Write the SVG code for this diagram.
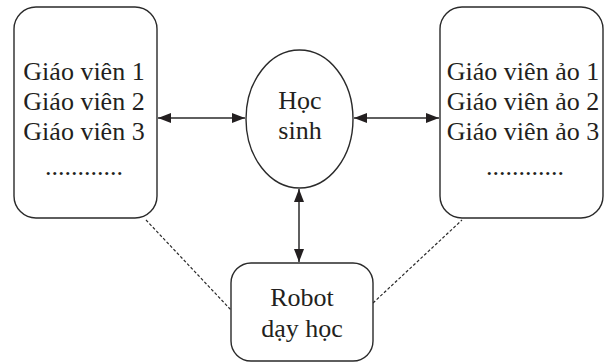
<svg xmlns="http://www.w3.org/2000/svg" width="614" height="364" viewBox="0 0 614 364">
<style>
.box{fill:#fff;stroke:#2a2a2a;stroke-width:1.4}
.t{font-family:"Liberation Serif","Times New Roman",serif;font-size:26px;fill:#231f20;text-anchor:middle}
.c{stroke:#2a2a2a;stroke-width:1.5;fill:none}
.d{stroke:#2a2a2a;stroke-width:1.2;stroke-dasharray:3,2;fill:none}
</style>
<defs>
<marker id="ah" viewBox="0 0 13 10" refX="13" refY="5" markerWidth="13" markerHeight="10" markerUnits="userSpaceOnUse" orient="auto-start-reverse">
<path d="M0,0 L13,5 L0,10 Z" fill="#231f20"/>
</marker>
</defs>
<g id="connectors">
<line class="c" x1="158" y1="118" x2="245" y2="118" marker-start="url(#ah)" marker-end="url(#ah)"/>
<line class="c" x1="354" y1="118" x2="439" y2="118" marker-start="url(#ah)" marker-end="url(#ah)"/>
<line class="c" x1="299" y1="189" x2="299" y2="262" marker-start="url(#ah)" marker-end="url(#ah)"/>
<line class="d" x1="146" y1="220" x2="231" y2="310"/>
<line class="d" x1="373" y1="303" x2="462" y2="220"/>
</g>
<g id="giao-vien">
<rect class="box" x="14" y="7" width="143" height="211" rx="22"/>
<text class="t" x="84" y="80">Giáo viên 1</text>
<text class="t" x="84" y="110">Giáo viên 2</text>
<text class="t" x="84" y="140">Giáo viên 3</text>
<text class="t" x="84" y="175">............</text>
</g>
<g id="giao-vien-ao">
<rect class="box" x="440" y="7" width="163" height="211" rx="22"/>
<text class="t" x="523" y="80">Giáo viên ảo 1</text>
<text class="t" x="523" y="110">Giáo viên ảo 2</text>
<text class="t" x="523" y="140">Giáo viên ảo 3</text>
<text class="t" x="525" y="175">............</text>
</g>
<g id="hoc-sinh">
<ellipse class="box" cx="299.5" cy="119" rx="53.5" ry="69"/>
<text class="t" x="300" y="109">Học</text>
<text class="t" x="300" y="139">sinh</text>
</g>
<g id="robot">
<rect class="box" x="231" y="263" width="142" height="98" rx="20"/>
<text class="t" x="302" y="306">Robot</text>
<text class="t" x="302" y="337">dạy học</text>
</g>
</svg>
